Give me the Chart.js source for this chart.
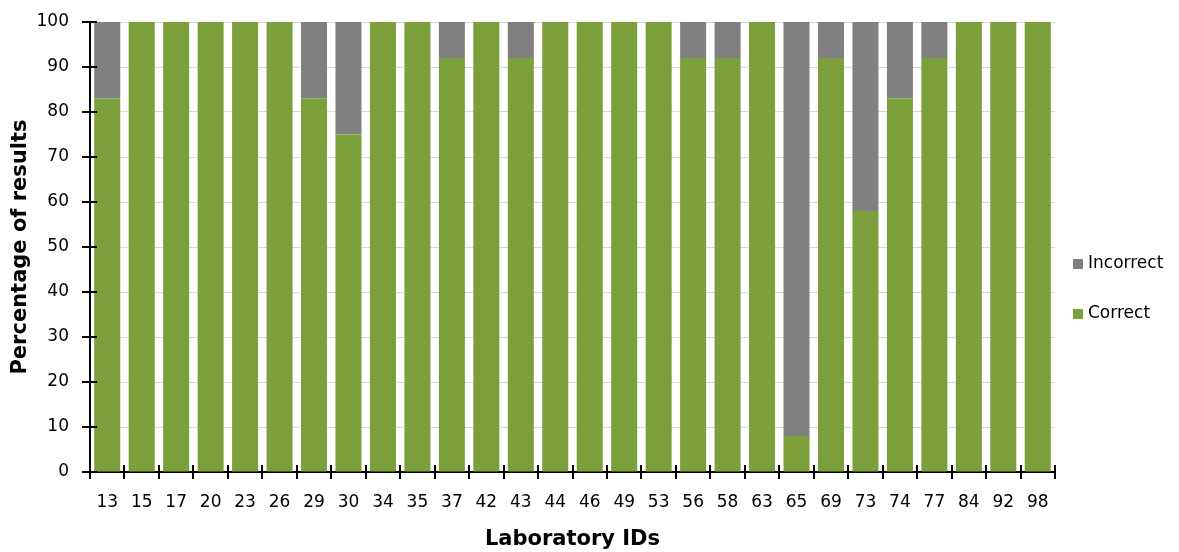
<!DOCTYPE html>
<html>
<head>
<meta charset="utf-8">
<script src="https://cdn.jsdelivr.net/npm/chart.js@4.4.1/dist/chart.umd.min.js"></script>
<style>
  html, body { margin: 0; padding: 0; background: #fff; }
  #wrap { width: 1179px; height: 552px; position: relative; }
</style>
</head>
<body>
<div id="wrap"><canvas id="c"></canvas></div>
<script>
// Laboratory IDs along the x axis
const labIds = ['13','15','17','20','23','26','29','30','34','35','37','42','43','44','46',
                '49','53','56','58','63','65','69','73','74','77','84','92','98'];
// Share of correct results per laboratory (%)
const correctPct = [83,100,100,100,100,100,83,75,100,100,92,100,92,100,100,
                    100,100,92,92,100,8,92,58,83,92,100,100,100];
// Share of incorrect results per laboratory (%)
const incorrectPct = [17,0,0,0,0,0,17,25,0,0,8,0,8,0,0,
                      0,0,8,8,0,92,8,42,17,8,0,0,0];
// Y axis tick values
const yTicks = [0,10,20,30,40,50,60,70,80,90,100];

const GREEN = '#7a9f3b';
const GREY = '#808080';
const FONT = 'DejaVu Sans';

// Tick marks that cross both axis lines, plus the side legend
const axisCrossTicks = {
  id: 'axisCrossTicks',
  afterDatasetsDraw(chart) {
    const {ctx, scales: {x, y}} = chart;
    ctx.save();
    ctx.strokeStyle = '#000';
    ctx.lineWidth = 2;
    yTicks.forEach(v => {
      const py = Math.round(y.getPixelForValue(v));
      ctx.beginPath();
      ctx.moveTo(x.left - 8, py);
      ctx.lineTo(x.left + 7, py);
      ctx.stroke();
    });
    for (let i = 0; i <= labIds.length; i++) {
      const px = Math.round(x.getPixelForValue(i - 0.5));
      ctx.beginPath();
      ctx.moveTo(px, y.bottom - 7);
      ctx.lineTo(px, y.bottom + 7);
      ctx.stroke();
    }
    ctx.restore();
  },
  afterDraw(chart) {
    const {ctx} = chart;
    const items = chart.data.datasets.slice().reverse();
    ctx.save();
    ctx.font = '17px "' + FONT + '"';
    ctx.textBaseline = 'middle';
    items.forEach((ds, i) => {
      const cy = 264 + i * 50;
      ctx.fillStyle = ds.backgroundColor;
      ctx.fillRect(1073, cy - 5, 10, 10);
      ctx.fillStyle = '#000';
      ctx.fillText(ds.label, 1088, cy);
    });
    ctx.restore();
  }
};

new Chart(document.getElementById('c'), {
  type: 'bar',
  data: {
    labels: labIds,
    datasets: [
      { label: 'Correct', data: correctPct, backgroundColor: GREEN },
      { label: 'Incorrect', data: incorrectPct, backgroundColor: GREY }
    ]
  },
  options: {
    responsive: true,
    maintainAspectRatio: false,
    animation: false,
    layout: { padding: { top: 22, right: 124, left: 0, bottom: 0 } },
    datasets: { bar: { barPercentage: 0.755, categoryPercentage: 1.0 } },
    plugins: {
      legend: { display: false },
      tooltip: { enabled: false }
    },
    scales: {
      x: {
        stacked: true,
        grid: { display: false },
        border: { display: true, color: '#000', width: 2 },
        ticks: { color: '#000', font: { family: FONT, size: 17 }, padding: 12, maxRotation: 0, autoSkip: false },
        title: { display: true, text: 'Laboratory IDs', color: '#000',
                 font: { family: FONT, size: 21, weight: 'bold' }, padding: { top: 8, bottom: 0 } },
        afterFit(scale) { scale.height = 80; }
      },
      y: {
        stacked: true,
        min: 0, max: 100,
        afterBuildTicks(scale) { scale.ticks = yTicks.map(v => ({ value: v })); },
        grid: { color: '#d9d9d9', lineWidth: 1, drawTicks: true, tickLength: 16, tickColor: 'rgba(0,0,0,0)' },
        border: { display: true, color: '#000', width: 2 },
        ticks: { color: '#000', font: { family: FONT, size: 17 }, padding: 5 },
        title: { display: true, text: 'Percentage of results', color: '#000',
                 font: { family: FONT, size: 21, weight: 'bold' }, padding: { top: 8, bottom: 0 } },
        afterFit(scale) { scale.width = 90; }
      }
    }
  },
  plugins: [axisCrossTicks]
});
</script>
</body>
</html>
